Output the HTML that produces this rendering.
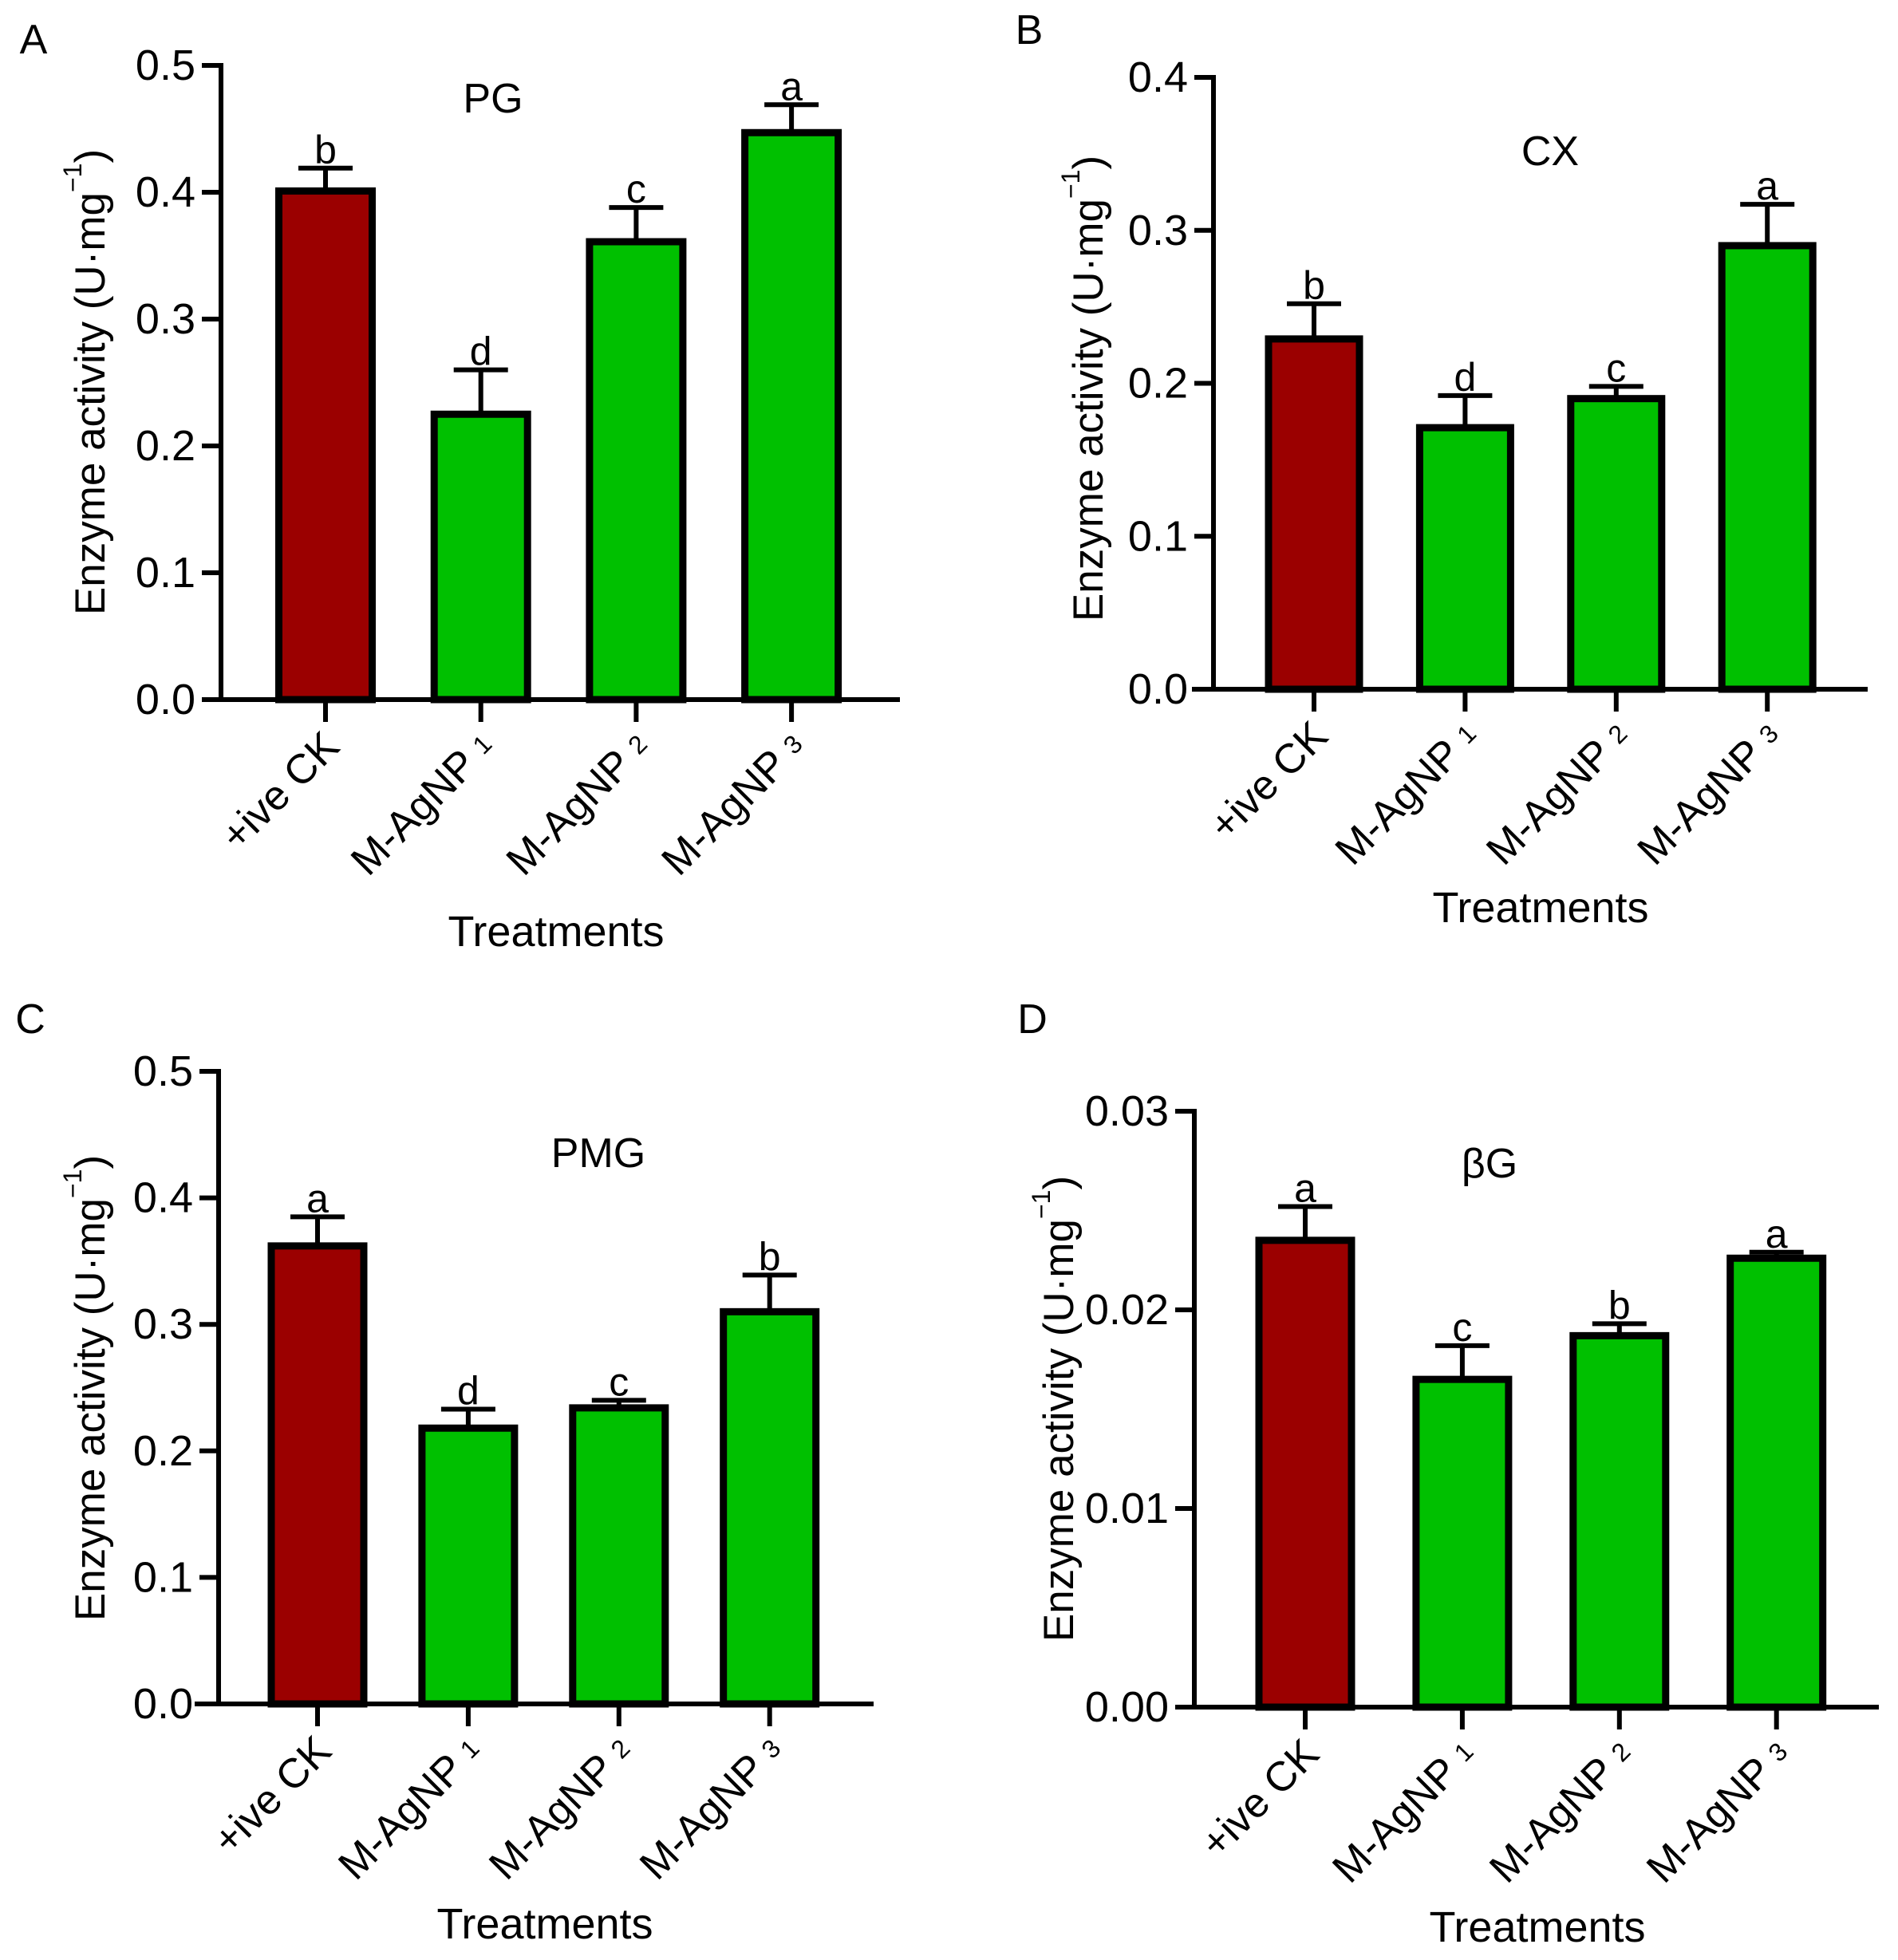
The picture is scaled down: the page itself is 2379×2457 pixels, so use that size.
<!DOCTYPE html>
<html><head><meta charset="utf-8"><style>
html,body{margin:0;padding:0;background:#fff}
svg{display:block;font-family:"Liberation Sans",Arial,sans-serif}
</style></head><body>
<svg id="fig" width="2379" height="2457" viewBox="0 0 2379 2457" xmlns="http://www.w3.org/2000/svg"></svg>
<script>
const categories = ["+ive CK", "M-AgNP", "M-AgNP", "M-AgNP"];
const categorySubs = ["", "1", "2", "3"];
const titles = ["PG", "CX", "PMG", "βG"];
const panelLetters = ["A", "B", "C", "D"];
const valuesA = [0.401, 0.225, 0.361, 0.447];
const errA = [0.018, 0.035, 0.027, 0.022];
const lettersA = ["b", "d", "c", "a"];
const valuesB = [0.229, 0.171, 0.190, 0.290];
const errB = [0.023, 0.021, 0.008, 0.027];
const lettersB = ["b", "d", "c", "a"];
const valuesC = [0.362, 0.218, 0.234, 0.310];
const errC = [0.023, 0.015, 0.006, 0.029];
const lettersC = ["a", "d", "c", "b"];
const valuesD = [0.0235, 0.0165, 0.0187, 0.0226];
const errD = [0.0017, 0.0017, 0.0006, 0.0003];
const lettersD = ["a", "c", "b", "a"];
const ticksA = [0, 0.1, 0.2, 0.3, 0.4, 0.5];
const ticksB = [0, 0.1, 0.2, 0.3, 0.4];
const ticksC = [0, 0.1, 0.2, 0.3, 0.4, 0.5];
const ticksD = [0, 0.01, 0.02, 0.03];

const NS = "http://www.w3.org/2000/svg";
const svg = document.getElementById("fig");
function mk(tag, attrs, parent, txt) {
  const e = document.createElementNS(NS, tag);
  for (const k in attrs) e.setAttribute(k, attrs[k]);
  if (txt !== undefined) e.textContent = txt;
  (parent || svg).appendChild(e);
  return e;
}
const layouts = [
  {ax:277, y0:877, ytop:82, xl:254, xr:1128, cx0:408, step:194.7, bw:126, dec:1, lx:42, ly:50, tx:618, ty:124, trx:697, try_:1168, ytx:113, yty:479},
  {ax:1521, y0:864, ytop:97, xl:1494, xr:2341, cx0:1647, step:189.4, bw:123, dec:1, lx:1290, ly:38, tx:1943, ty:190, trx:1931, try_:1138, ytx:1364, yty:487},
  {ax:274, y0:2136, ytop:1343, xl:244, xr:1095, cx0:398, step:188.9, bw:125, dec:1, lx:38, ly:1278, tx:750, ty:1446, trx:683, try_:2412, ytx:113, yty:1740},
  {ax:1497, y0:2140, ytop:1393, xl:1476, xr:2355, cx0:1636, step:196.9, bw:125, dec:2, lx:1294, ly:1278, tx:1867, ty:1459, trx:1927, try_:2416, ytx:1327, yty:1766}
];
const vals = [valuesA, valuesB, valuesC, valuesD];
const errs = [errA, errB, errC, errD];
const lets = [lettersA, lettersB, lettersC, lettersD];
const ticks = [ticksA, ticksB, ticksC, ticksD];

for (let p = 0; p < 4; p++) {
  const L = layouts[p], V = vals[p], E = errs[p], T = ticks[p];
  const ymax = T[T.length - 1];
  const yScale = v => L.y0 - (v / ymax) * (L.y0 - L.ytop);
  const xScale = i => L.cx0 + i * L.step;
  const g = mk("g", {});
  
  

  const pl = mk("text", {x:L.lx, y:L.ly, "font-size":52, "text-anchor":"middle", "dominant-baseline":"central"}, g, panelLetters[p]);
  
  

  for (let i = 0; i < V.length; i++) {
    const cx = xScale(i), yt = yScale(V[i]), ye = yScale(V[i] + E[i]);
    const bar = mk("rect", {x:cx - L.bw/2 + 4.5, y:yt, width:L.bw - 9, height:L.y0 - yt, fill: i === 0 ? "#9b0000" : "#00c000", stroke:"#000", "stroke-width":9}, g);
    
    
    const el = mk("line", {x1:cx, x2:cx, y1:yt, y2:ye, stroke:"#000", "stroke-width":6}, g);
    
    
    const cap = mk("line", {x1:cx - 34, x2:cx + 34, y1:ye, y2:ye, stroke:"#000", "stroke-width":6}, g);
    
    
    const lt = mk("text", {x:cx, y:ye - 6, "font-size":50, "text-anchor":"middle"}, g, lets[p][i]);
    
    
    const xt = mk("line", {x1:cx, x2:cx, y1:L.y0, y2:L.y0 + 28, stroke:"#000", "stroke-width":6}, g);
    
    
    const ex = cx + 20, ey = L.y0 + 62;
    const ct = mk("text", {x:ex, y:ey, "font-size":52, "text-anchor":"end", transform:`rotate(-45 ${ex} ${ey})`}, g);
    
    
    if (categorySubs[i]) {
      mk("tspan", {}, ct, categories[i] + " ");
      mk("tspan", {"font-size":32, dy:-6}, ct, categorySubs[i]);
    } else {
      ct.textContent = categories[i];
    }
  }
  const ya = mk("line", {x1:L.ax, x2:L.ax, y1:L.ytop - 3, y2:L.y0 + 3, stroke:"#000", "stroke-width":6}, g);
  
  
  const xa = mk("line", {x1:L.xl, x2:L.xr, y1:L.y0, y2:L.y0, stroke:"#000", "stroke-width":6}, g);
  
  
  for (const t of T) {
    const y = yScale(t);
    const tl = mk("line", {x1:L.ax - 24, x2:L.ax, y1:y, y2:y, stroke:"#000", "stroke-width":6}, g);
    
    
    const tt = mk("text", {x:L.ax - 32, y:y, "font-size":54, "text-anchor":"end", "dominant-baseline":"central"}, g, t.toFixed(L.dec));
    
    
  }
  const ti = mk("text", {x:L.tx, y:L.ty, "font-size":52, "text-anchor":"middle", "dominant-baseline":"central"}, g, titles[p]);
  
  
  const xt = mk("text", {x:L.trx, y:L.try_, "font-size":54, "text-anchor":"middle", "dominant-baseline":"central"}, g, "Treatments");
  
  
  const yt = mk("text", {x:L.ytx, y:L.yty, "font-size":53, "text-anchor":"middle", "dominant-baseline":"central", transform:`rotate(-90 ${L.ytx} ${L.yty})`}, g);
  
  
  mk("tspan", {}, yt, "Enzyme activity (U·mg");
  mk("tspan", {"font-size":32, dy:-22}, yt, "−1");
  mk("tspan", {dy:22}, yt, ")");
}
</script>
</body></html>
